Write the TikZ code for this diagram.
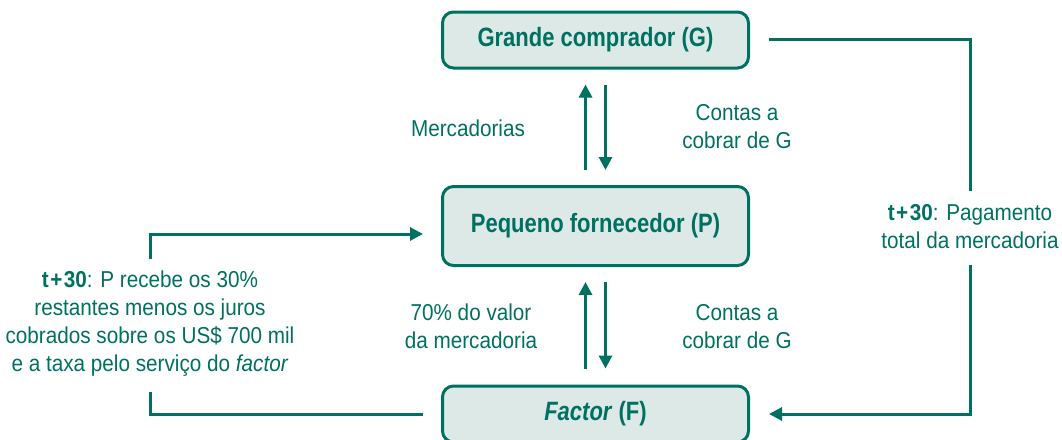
\documentclass[tikz,border=0pt]{standalone}
\usepackage{fontspec}
\setmainfont{Liberation Sans}[FakeStretch=0.9]
\newfontfamily\boxfont{Liberation Sans}[FakeStretch=0.83]
\usetikzlibrary{arrows.meta}
\definecolor{teal1}{RGB}{0,112,96}
\definecolor{tealfill}{RGB}{220,233,231}
\newcommand{\tplus}{\textbf{t\kern1.5pt+\kern1.5pt30}}
\begin{document}
\begin{tikzpicture}[x=1pt,y=-1pt,
  box/.style={draw=teal1,line width=3pt,fill=tealfill,rounded corners=11pt,
    minimum width=306pt,minimum height=56pt,inner sep=0pt,text=teal1,
    font=\boxfont\fontsize{26.5}{28}\selectfont\bfseries},
  lbl/.style={text=teal1,align=center,inner sep=0pt,
    font=\fontsize{23}{28}\selectfont},
  conn/.style={draw=teal1,line width=3pt},
  arr/.style={conn,-{Triangle[length=13pt,width=13pt]}}]
\useasboundingbox (0,0) rectangle (1062,439);
\node[box] (G) at (595.5,40) {Grande comprador (G)};
\node[box,minimum height=79pt] (P) at (595.5,226) {Pequeno fornecedor (P)};
\node[box] (F) at (595.5,414) {\textit{Factor} (F)};
\node[lbl] (merc) at (468,128) {Mercadorias};
\node[lbl] (cg1) at (737,127) {Contas a\\cobrar de G};
\node[lbl] (val) at (471,326) {70\% do valor\\da mercadoria};
\node[lbl] (cg2) at (737,327) {Contas a\\cobrar de G};
\node[lbl] (left) at (150,324) {\tplus: P recebe os 30\%\\restantes menos os juros\\cobrados sobre os US\$ 700 mil\\e a taxa pelo serviço do \textit{factor}};
\node[lbl] (pay) at (970,227) {\tplus: Pagamento\\total da mercadoria};
% vertical arrows
\draw[arr] ([xshift=-10pt,yshift=15pt]P.north) -- ([xshift=-10pt,yshift=-15pt]G.south);
\draw[arr] ([xshift=10pt,yshift=-15pt]G.south) -- ([xshift=10pt,yshift=15pt]P.north);
\draw[arr] ([xshift=-10pt,yshift=16pt]F.north) -- ([xshift=-10pt,yshift=-15pt]P.south);
\draw[arr] ([xshift=10pt,yshift=-15pt]P.south) -- ([xshift=10pt,yshift=16pt]F.north);
% left loop
\draw[arr] ([yshift=12pt]left.north) |- ([xshift=-18pt,yshift=-8pt]P.west);
\draw[conn] ([yshift=-15pt]left.south) |- ([xshift=-18pt]F.west);
% right loop
\draw[conn] ([xshift=19pt,yshift=1pt]G.east) -| ([yshift=14pt]pay.north);
\draw[arr] ([yshift=-16pt]pay.south) |- ([xshift=19pt]F.east);
\end{tikzpicture}
\end{document}
